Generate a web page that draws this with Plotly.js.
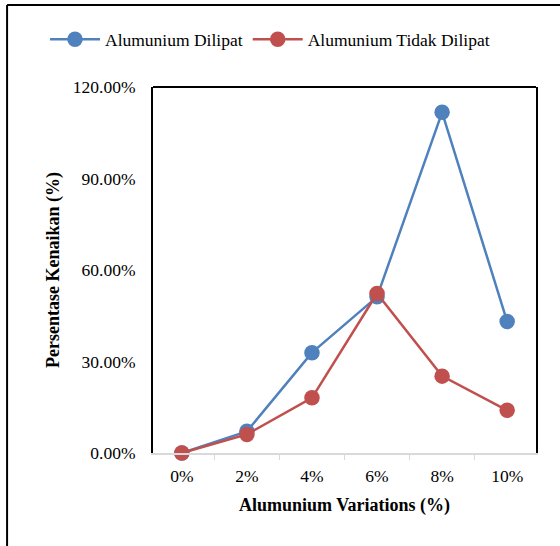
<!DOCTYPE html>
<html>
<head>
<meta charset="utf-8">
<script src="https://cdn.plot.ly/plotly-3.0.1.min.js"></script>
<style>html,body{margin:0;padding:0;background:#fff;}#chart{width:560px;height:546px;}</style>
</head>
<body>
<div id="chart"></div>
<script>
var categories = ['0%', '2%', '4%', '6%', '8%', '10%'];
var dilipat = [0.0, 0.071, 0.329, 0.512, 1.117, 0.431];
var tidakDilipat = [0.0, 0.061, 0.181, 0.523, 0.252, 0.140];
var seriesNames = ['Alumunium Dilipat', 'Alumunium Tidak Dilipat'];

var FONT = 'Liberation Serif';

var traces = [
  {x: categories, y: dilipat, name: seriesNames[0], type: 'scatter', mode: 'lines+markers',
   line: {color: '#4F81BD', width: 2.5}, marker: {color: '#4F81BD', size: 15.5}, cliponaxis: false},
  {x: categories, y: tidakDilipat, name: seriesNames[1], type: 'scatter', mode: 'lines+markers',
   line: {color: '#C0504D', width: 2.5}, marker: {color: '#C0504D', size: 15.5}, cliponaxis: false}
];

var layout = {
  width: 560, height: 546,
  margin: {l: 153, r: 24, t: 87, b: 93},
  paper_bgcolor: '#fff', plot_bgcolor: '#fff',
  font: {family: FONT, size: 17.5, color: '#000'},
  showlegend: true,
  legend: {orientation: 'h', x: -0.282, xanchor: 'left', y: 1.13, yanchor: 'middle',
           font: {family: FONT, size: 17.5, color: '#000'}, itemwidth: 50, traceorder: 'normal'},
  xaxis: {type: 'category', showgrid: false, zeroline: false,
          showline: true, linecolor: '#d9d9d9', linewidth: 2,
          ticks: 'outside', tickson: 'boundaries', ticklen: 5, tickcolor: '#d9d9d9', tickwidth: 1,
          ticklabelstandoff: 6,
          tickfont: {family: FONT, size: 17.5, color: '#000'},
          title: {text: '<b>Alumunium Variations (%)</b>', font: {family: FONT, size: 18, color: '#000'}, standoff: 13}},
  yaxis: {range: [0, 1.2], dtick: 0.3, tick0: 0, tickformat: '.2%', showgrid: false, zeroline: false,
          showline: true, linecolor: '#000', linewidth: 2, mirror: true,
          ticks: 'outside', ticklen: 12, tickcolor: 'rgba(0,0,0,0)',
          tickfont: {family: FONT, size: 17.5, color: '#000'},
          title: {text: '<b>Persentase Kenaikan (%)</b>', font: {family: FONT, size: 18, color: '#000'}, standoff: 8}},
  shapes: [
    {type: 'line', xref: 'paper', yref: 'paper', x0: 0, x1: 1, y0: 1, y1: 1, line: {color: '#000', width: 2}},
    {type: 'line', xref: 'paper', yref: 'paper', x0: -0.381, x1: -0.381, y0: 1.224, y1: -0.35, line: {color: '#000', width: 2}},
    {type: 'line', xref: 'paper', yref: 'paper', x0: -0.381, x1: 1.2, y0: 1.224, y1: 1.224, line: {color: '#000', width: 2}}
  ]
};

Plotly.newPlot('chart', traces, layout, {displayModeBar: false, staticPlot: true});
</script>
</body>
</html>
